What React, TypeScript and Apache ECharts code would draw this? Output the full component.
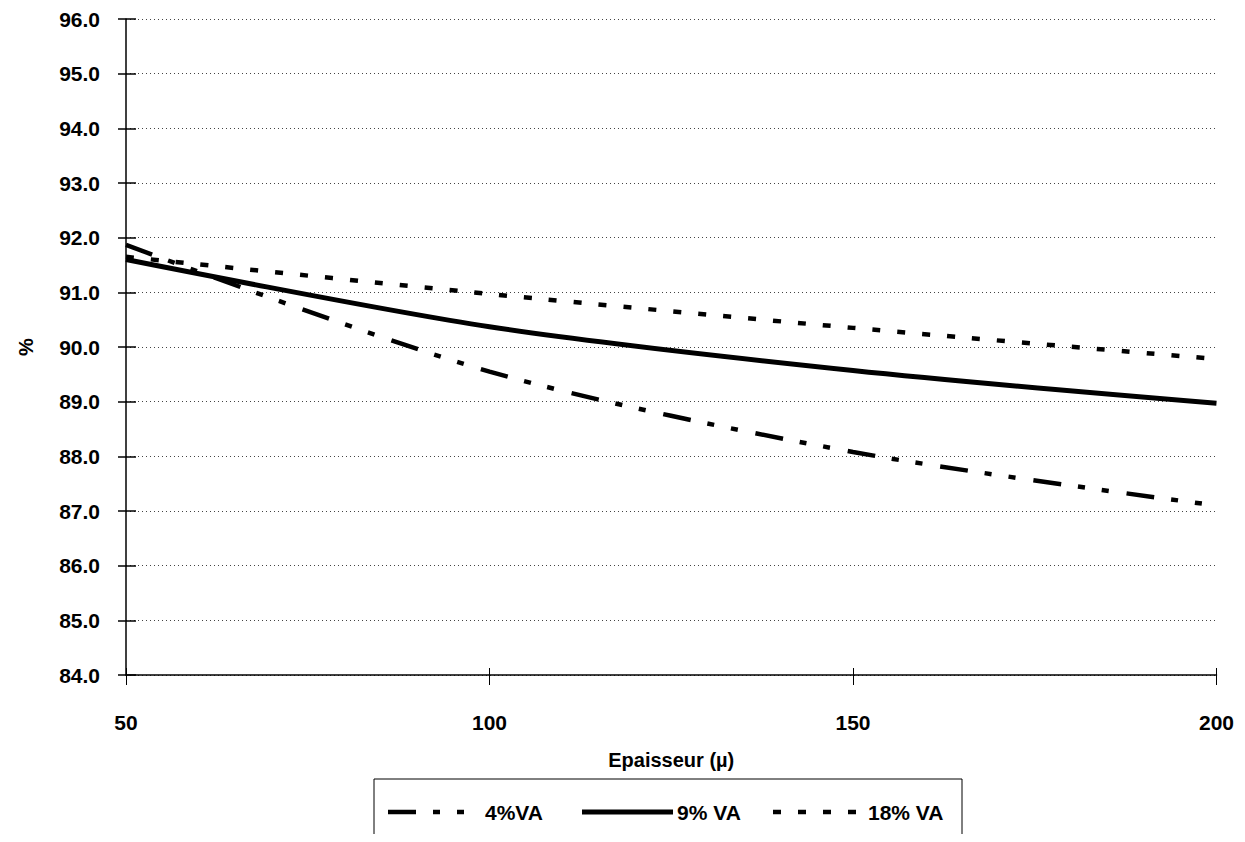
import React, { useEffect, useRef } from "react";
import * as echarts from "echarts";

const xValues = [50, 100, 150, 200];
const va4 = [91.87, 89.55, 88.08, 87.1];
const va9 = [91.6, 90.37, 89.57, 88.97];
const va18 = [91.65, 90.97, 90.35, 89.78];
const seriesNames = ["4%VA", "9% VA", "18% VA"];

const FONT = "'Liberation Sans', Arial, sans-serif";
const DASH4 = [28, 17, 7, 17, 7, 18];
const DASH18 = [8, 17];

export default function App() {
  const ref = useRef<HTMLDivElement>(null);
  useEffect(() => {
    if (!ref.current) return;
    const chart = echarts.init(ref.current, null, { renderer: "svg" });
    const pairs = (ys: number[]) => xValues.map((x, i) => [x, ys[i]]);
    const baseX = {
      type: "value",
      min: 50,
      max: 200,
      interval: 50,
      position: "bottom",
      splitLine: { show: false },
    };
    const baseY = {
      type: "value",
      min: 84,
      max: 96,
      interval: 1,
      position: "left",
    };
    const legY = 804;
    const legText = (text: string, x: number) => ({
      type: "text",
      x,
      y: legY,
      style: {
        text,
        fill: "#000",
        fontSize: 21,
        fontWeight: "bold",
        fontFamily: FONT,
        verticalAlign: "middle",
        align: "left",
      },
    });
    const legLine = (x1: number, x2: number, dash: any, w: number) => ({
      type: "line",
      shape: { x1, y1: legY, x2, y2: legY },
      style: { stroke: "#000", lineWidth: w, lineDash: dash },
    });
    chart.setOption({
      animation: false,
      backgroundColor: "#ffffff",
      textStyle: { fontFamily: FONT },
      grid: { left: 105, right: 15, top: 11, bottom: 159, containLabel: false },
      xAxis: [
        {
          ...baseX,
          name: "Epaisseur (\u00b5)",
          nameLocation: "middle",
          nameGap: 75,
          nameTextStyle: { color: "#000", fontSize: 20, fontWeight: "bold", fontFamily: FONT },
          axisLine: { show: true, lineStyle: { color: "#000", width: 1.5 } },
          axisTick: { show: true, inside: false, length: 10, lineStyle: { color: "#000", width: 1 } },
          axisLabel: { color: "#000", fontSize: 21, fontWeight: "bold", fontFamily: FONT, margin: 37 },
        },
        {
          ...baseX,
          axisLine: { show: false },
          axisTick: { show: true, inside: true, length: 7, lineStyle: { color: "#000", width: 1 } },
          axisLabel: { show: false },
        },
      ],
      yAxis: [
        {
          ...baseY,
          name: "%",
          nameLocation: "middle",
          nameGap: 90,
          nameRotate: 90,
          nameTextStyle: { color: "#000", fontSize: 20, fontWeight: "bold", fontFamily: FONT },
          axisLine: { show: true, lineStyle: { color: "#000", width: 1.5 } },
          axisTick: { show: true, inside: false, length: 8, lineStyle: { color: "#000", width: 1.5 } },
          axisLabel: {
            color: "#000",
            fontSize: 21,
            fontWeight: "bold",
            fontFamily: FONT,
            margin: 26,
            formatter: (v: number) => v.toFixed(1),
          },
          splitLine: { show: true, lineStyle: { color: "#444", width: 1, type: [1, 3] } },
        },
        {
          ...baseY,
          axisLine: { show: false },
          axisTick: { show: true, inside: true, length: 10, lineStyle: { color: "#000", width: 1.5 } },
          axisLabel: { show: false },
          splitLine: { show: false },
        },
      ],
      graphic: [
        {
          type: "rect",
          shape: { x: 366, y: 771, width: 588, height: 60 },
          style: { fill: "none", stroke: "#000", lineWidth: 1 },
        },
        legLine(380, 456, DASH4, 4.5),
        legText(seriesNames[0], 477),
        legLine(574, 665, null, 5),
        legText(seriesNames[1], 669),
        legLine(765, 853, DASH18, 4.5),
        legText(seriesNames[2], 860),
      ],
      series: [
        {
          name: seriesNames[0],
          type: "line",
          data: pairs(va4),
          smooth: 0.3,
          symbol: "none",
          lineStyle: { color: "#000", width: 4.5, type: DASH4 },
        },
        {
          name: seriesNames[1],
          type: "line",
          data: pairs(va9),
          smooth: 0.3,
          symbol: "none",
          lineStyle: { color: "#000", width: 5, type: "solid" },
        },
        {
          name: seriesNames[2],
          type: "line",
          data: pairs(va18),
          smooth: 0.3,
          symbol: "none",
          lineStyle: { color: "#000", width: 4.5, type: DASH18 },
        },
      ],
    });
    return () => chart.dispose();
  }, []);
  return <div ref={ref} style={{ width: 1229, height: 826 }} />;
}
